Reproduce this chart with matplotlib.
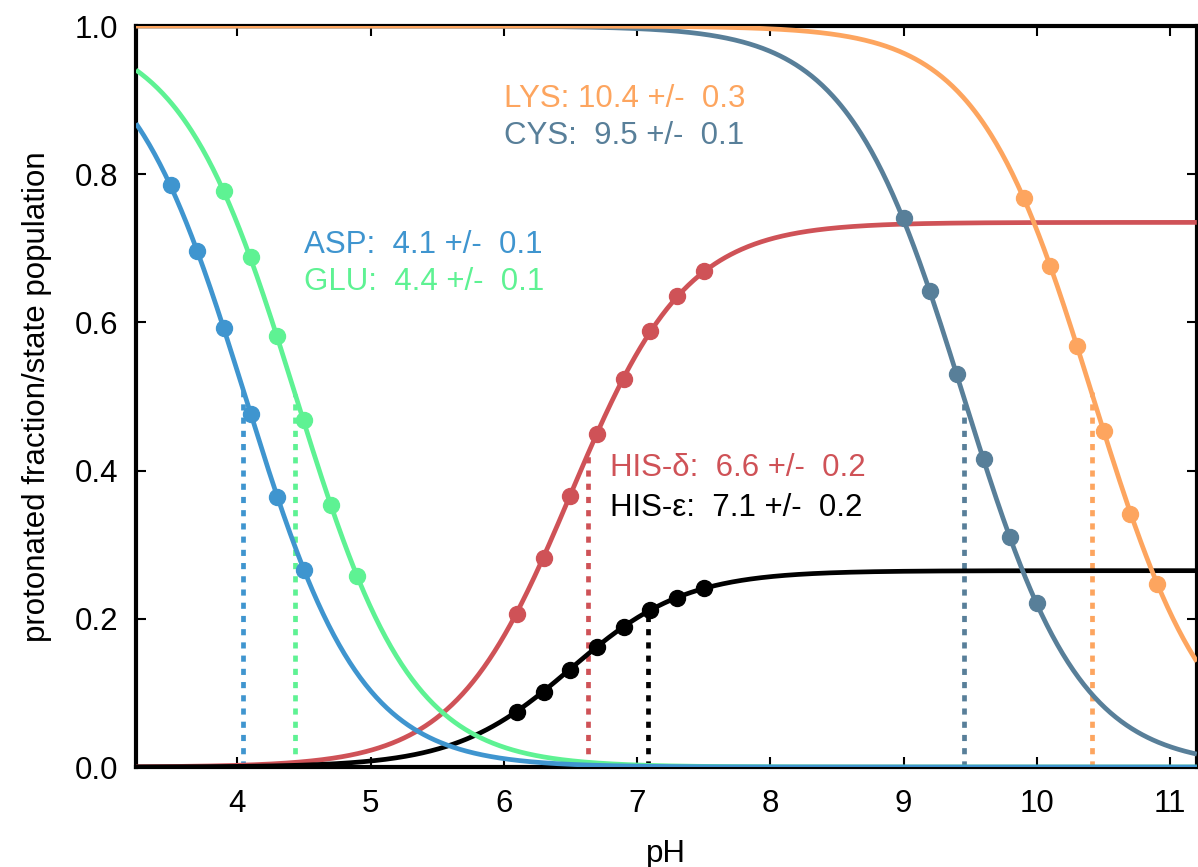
import numpy as np
import matplotlib
matplotlib.use("Agg")
import matplotlib.pyplot as plt

plt.rcParams['font.family'] = ['Liberation Sans', 'DejaVu Sans']

# ---- data ----
names = ["ASP", "GLU", "HIS-δ", "HIS-ε", "CYS", "LYS"]
colors = ["#3f95cf", "#5ef293", "#cf5257", "#000000", "#587f99", "#fda55f"]

# sampled points
asp_x = [3.5, 3.7, 3.9, 4.1, 4.3, 4.5]
asp_y = [0.785, 0.696, 0.592, 0.477, 0.365, 0.266]
glu_x = [3.9, 4.1, 4.3, 4.5, 4.7, 4.9]
glu_y = [0.777, 0.688, 0.581, 0.468, 0.354, 0.258]
hisd_x = [6.1, 6.3, 6.5, 6.7, 6.9, 7.1, 7.3, 7.5]
hisd_y = [0.207, 0.282, 0.366, 0.450, 0.524, 0.588, 0.635, 0.670]
hise_x = [6.1, 6.3, 6.5, 6.7, 6.9, 7.1, 7.3, 7.5]
hise_y = [0.074, 0.101, 0.131, 0.162, 0.189, 0.212, 0.228, 0.241]
cys_x = [9.0, 9.2, 9.4, 9.6, 9.8, 10.0]
cys_y = [0.741, 0.642, 0.531, 0.416, 0.311, 0.222]
lys_x = [9.9, 10.1, 10.3, 10.5, 10.7, 10.9]
lys_y = [0.768, 0.676, 0.568, 0.453, 0.342, 0.247]

# fitted curve parameters (midpoint, amplitude, direction: -1 decreasing, +1 increasing)
fit_mid = [4.06, 4.44, 6.50, 6.50, 9.45, 10.42]
fit_amp = [1.0, 1.0, 0.735, 0.265, 1.0, 1.0]
fit_dir = [-1, -1, 1, 1, -1, -1]

# reported pKa values (dotted markers)
pka = [4.045, 4.435, 6.63, 7.08, 9.45, 10.41]

labels = ["ASP:  4.1 +/-  0.1", "GLU:  4.4 +/-  0.1",
          "HIS-δ:  6.6 +/-  0.2", "HIS-ε:  7.1 +/-  0.2",
          "CYS:  9.5 +/-  0.1", "LYS: 10.4 +/-  0.3"]
label_x = [4.50, 4.50, 6.80, 6.80, 6.00, 6.00]
label_y = [0.705, 0.654, 0.403, 0.349, 0.852, 0.902]

xs_pts = [asp_x, glu_x, hisd_x, hise_x, cys_x, lys_x]
ys_pts = [asp_y, glu_y, hisd_y, hise_y, cys_y, lys_y]


def model(x, mid, amp, d):
    return amp / (1.0 + 10.0 ** (-d * (x - mid)))


fig = plt.figure(figsize=(11.98, 8.67), dpi=100)
ax = fig.add_axes([0.1135, 0.1153, 0.8855, 0.8547])

xmin, xmax = 3.24, 11.2
xx = np.linspace(xmin, xmax, 800)

FS = 22.5
order = [2, 3, 1, 0, 4, 5]
for i in order:
    c = colors[i]
    yy = model(xx, fit_mid[i], fit_amp[i], fit_dir[i])
    ax.plot(xx, yy, color=c, lw=3.4, solid_capstyle='butt', zorder=3)
    ax.plot(xs_pts[i], ys_pts[i], 'o', color=c, ms=11.5, zorder=4)
    ytop = model(pka[i], fit_mid[i], fit_amp[i], fit_dir[i])
    ax.plot([pka[i], pka[i]], [0, ytop], color=c, lw=3.4,
            dashes=(1.3, 1.5), zorder=2)
    ax.text(label_x[i], label_y[i], labels[i], color=c, fontsize=FS,
            ha='left', va='center', zorder=5)

ax.set_xlim(xmin, xmax)
ax.set_ylim(0, 1.0)
ax.set_xticks([4, 5, 6, 7, 8, 9, 10, 11])
ax.set_yticks([0.0, 0.2, 0.4, 0.6, 0.8, 1.0])
ax.set_yticklabels(["0.0", "0.2", "0.4", "0.6", "0.8", "1.0"])
ax.tick_params(direction='in', length=7, width=1.5, top=True, right=True,
               labelsize=FS, colors='black')
ax.tick_params(axis='x', pad=16)
ax.tick_params(axis='y', pad=13)
for s in ax.spines.values():
    s.set_linewidth(3)
ax.set_xlabel("pH", fontsize=FS, labelpad=14)
ax.set_ylabel("protonated fraction/state population", fontsize=FS, labelpad=16)

fig.savefig("out.png", dpi=100)
